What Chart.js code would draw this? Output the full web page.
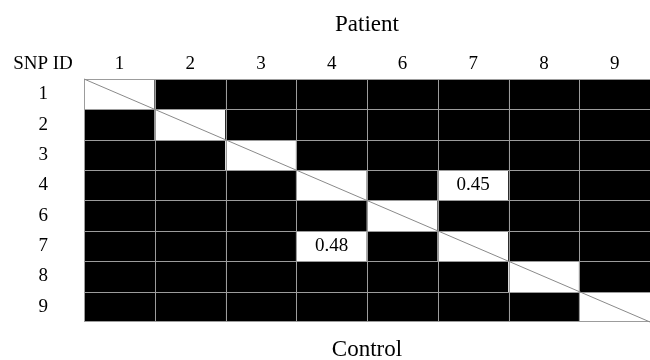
<!DOCTYPE html>
<html lang="en">

<head>
    <meta charset="UTF-8">
    <title>SNP pairs</title>
    <script src="https://cdn.jsdelivr.net/npm/chart.js"></script>
    <style>
        body { margin: 0; background: #fff; }
    </style>
</head>

<body>
    <canvas id="myChart" width="650" height="360"></canvas>
    <script>
        // SNP ids used for both rows (Control) and columns (Patient)
        const snpIds = ['1', '2', '3', '4', '6', '7', '8', '9'];
        // every cell counts as one unit in its column stack
        const cellUnits = [1, 1, 1, 1, 1, 1, 1, 1];
        // pairs that are shown with a value (white cells)
        const pairRows = ['4', '7'];
        const pairCols = ['7', '4'];
        const pairValues = ['0.45', '0.48'];

        const serif = 'Liberation Serif, Times New Roman, serif';

        function isWhite(rowId, colId) {
            if (rowId === colId) return true;
            for (let i = 0; i < pairRows.length; i++) {
                if (pairRows[i] === rowId && pairCols[i] === colId) return true;
            }
            return false;
        }

        const datasets = snpIds.map((rowId) => ({
            label: rowId,
            data: cellUnits,
            backgroundColor: snpIds.map((colId) => isWhite(rowId, colId) ? '#ffffff' : '#000000'),
            borderWidth: 0,
            barPercentage: 1,
            categoryPercentage: 1,
            stack: 'cells'
        }));

        const cellText = {
            id: 'cellText',
            afterDatasetsDraw(chart) {
                const ctx = chart.ctx;
                const area = chart.chartArea;
                const xs = chart.scales.x;
                const ys = chart.scales.y;
                const rs = chart.scales.rows;
                const n = snpIds.length;
                ctx.save();
                // cell borders
                ctx.strokeStyle = '#9c9c9c';
                ctx.lineWidth = 1;
                ctx.beginPath();
                for (let i = 0; i <= n; i++) {
                    const x = Math.round(xs.getPixelForValue(i - 0.5)) + 0.5;
                    if (x < area.right - 1) {
                        ctx.moveTo(x, area.top);
                        ctx.lineTo(x, area.bottom);
                    }
                    let y = Math.round(ys.getPixelForValue(i)) + 0.5;
                    if (i === n) y -= 1;
                    ctx.moveTo(area.left, y);
                    ctx.lineTo(area.right, y);
                }
                ctx.stroke();
                // diagonal through the self-pair cells
                ctx.strokeStyle = '#8a8a8a';
                ctx.beginPath();
                ctx.moveTo(xs.getPixelForValue(-0.5), ys.getPixelForValue(0));
                ctx.lineTo(xs.getPixelForValue(n - 0.5), ys.getPixelForValue(n));
                ctx.stroke();

                ctx.font = '19px ' + serif;
                ctx.fillStyle = '#000';
                ctx.textAlign = 'center';
                ctx.textBaseline = 'middle';
                pairValues.forEach((v, i) => {
                    const x = xs.getPixelForValue(snpIds.indexOf(pairCols[i]));
                    const y = rs.getPixelForValue(snpIds.indexOf(pairRows[i]));
                    ctx.fillText(v, x, y);
                });
                // corner label
                ctx.fillText('SNP ID', 43, area.top - 15);
                ctx.restore();
            }
        };

        new Chart(document.getElementById('myChart'), {
            type: 'bar',
            data: { labels: snpIds, datasets: datasets },
            options: {
                responsive: false,
                animation: false,
                layout: { padding: 0 },
                plugins: {
                    legend: { display: false },
                    tooltip: { enabled: false },
                    title: {
                        display: true,
                        fullSize: false,
                        text: 'Patient',
                        color: '#000',
                        font: { family: serif, size: 23, weight: 'normal', lineHeight: 1.2 },
                        padding: { top: 11, bottom: 13.6 }
                    },
                    subtitle: {
                        display: true,
                        fullSize: false,
                        position: 'bottom',
                        text: 'Control',
                        color: '#000',
                        font: { family: serif, size: 23, weight: 'normal', lineHeight: 0.87 },
                        padding: { top: 18, bottom: 0 }
                    }
                },
                scales: {
                    x: {
                        position: 'top',
                        stacked: true,
                        offset: true,
                        grid: { display: false, drawTicks: false },
                        border: { display: false },
                        ticks: { color: '#000', padding: 4, font: { family: serif, size: 19 } },
                        afterFit(scale) {
                            scale.height = 26.8;
                            scale.paddingLeft = 0;
                            scale.paddingRight = 0;
                        }
                    },
                    y: {
                        display: false,
                        stacked: true,
                        reverse: true,
                        min: 0,
                        max: snpIds.length
                    },
                    rows: {
                        type: 'category',
                        labels: snpIds,
                        position: 'left',
                        offset: true,
                        grid: { display: false, drawTicks: false },
                        border: { display: false },
                        ticks: { color: '#000', padding: 36, font: { family: serif, size: 19 } },
                        afterFit(scale) {
                            scale.width = 84;
                            scale.paddingTop = 0;
                            scale.paddingBottom = 0;
                        }
                    }
                }
            },
            plugins: [cellText]
        });
    </script>
</body>

</html>
